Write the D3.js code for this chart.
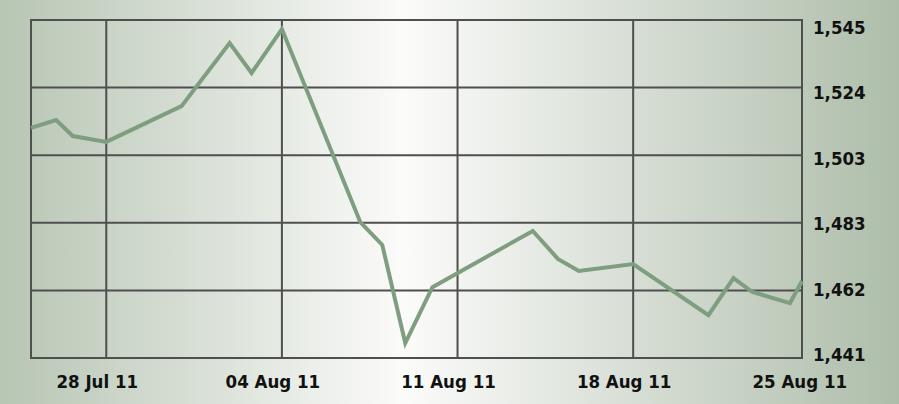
<!DOCTYPE html>
<html>
<head>
<meta charset="utf-8">
<script src="https://cdn.jsdelivr.net/npm/d3@7"></script>
<style>
  body { margin: 0; }
  #chart text { font-family: "DejaVu Sans Condensed", "DejaVu Sans", sans-serif; font-stretch: condensed; font-weight: bold; font-size: 18.5px; fill: #111; }
</style>
</head>
<body>
<div id="chart"></div>
<script>
// price series
var dates = ["2011-07-25T00:00", "2011-07-26T00:00", "2011-07-26T16:00", "2011-07-28T00:00",
  "2011-07-31T00:00", "2011-08-01T22:00", "2011-08-02T19:00", "2011-08-04T00:00",
  "2011-08-07T03:00", "2011-08-08T00:00", "2011-08-08T22:00", "2011-08-10T00:00",
  "2011-08-14T00:00", "2011-08-15T00:00", "2011-08-15T20:00", "2011-08-18T00:00",
  "2011-08-21T00:00", "2011-08-22T00:00", "2011-08-22T18:00", "2011-08-24T06:00",
  "2011-08-24T17:30"];
var prices = [1511.8, 1514.2, 1509.3, 1507.5, 1518.5, 1537.9, 1528.7, 1542.2,
  1482.8, 1475.8, 1445.6, 1462.8, 1480.1, 1471.5, 1467.8, 1469.9,
  1454.2, 1465.6, 1461.3, 1457.9, 1464.7];

var xTickDates = ["2011-07-28", "2011-08-04", "2011-08-11", "2011-08-18", "2011-08-25"];
var yMin = 1441, yMax = 1545, yTickCount = 6;

var W = 899, H = 404;
var margin = {top: 20, right: 97, bottom: 46, left: 31},
width = W - margin.left - margin.right,
height = H - margin.top - margin.bottom;

var parse = d3.timeParse("%Y-%m-%dT%H:%M");
var parseDay = d3.timeParse("%Y-%m-%d");
var data = dates.map(function(d, i) { return {date: parse(d), value: prices[i]}; });

var svg = d3.select("#chart").append("svg")
  .attr("width", W)
  .attr("height", H);

var grad = svg.append("defs").append("linearGradient")
  .attr("id", "bg")
  .attr("x1", "0%").attr("x2", "100%").attr("y1", "0%").attr("y2", "0%");
grad.append("stop").attr("offset", "0%").attr("stop-color", "#b7c5b3");
grad.append("stop").attr("offset", "45%").attr("stop-color", "#fbfbfa");
grad.append("stop").attr("offset", "100%").attr("stop-color", "#aebdaa");

svg.append("rect")
  .attr("width", W)
  .attr("height", H)
  .attr("fill", "url(#bg)");

var g = svg.append("g")
  .attr("transform", "translate(" + margin.left + "," + margin.top + ")");

var x = d3.scaleTime()
  .domain([data[0].date, data[data.length - 1].date])
  .range([0, width]);

var y = d3.scaleLinear()
  .domain([yMin, yMax])
  .range([height, 0]);

// labels on the right sit slightly off the grid lines
var yLabel = d3.scaleLinear()
  .domain([yMin, yMax])
  .range([height - 3, 7.5]);

var yTicks = d3.range(yTickCount).map(function(i) { return yMin + i * (yMax - yMin) / (yTickCount - 1); });
var xTicks = xTickDates.map(parseDay);

// grid
g.append("g")
  .selectAll("line.h")
  .data(yTicks)
  .enter().append("line")
  .attr("x1", 0).attr("x2", width)
  .attr("y1", function(d) { return y(d); })
  .attr("y2", function(d) { return y(d); })
  .attr("stroke", "#4f4f4f")
  .attr("stroke-width", 2);

g.append("g")
  .selectAll("line.v")
  .data(xTicks.filter(function(d) { return x(d) < width; }))
  .enter().append("line")
  .attr("y1", 0).attr("y2", height)
  .attr("x1", function(d) { return x(d); })
  .attr("x2", function(d) { return x(d); })
  .attr("stroke", "#4f4f4f")
  .attr("stroke-width", 2);

g.append("rect")
  .attr("width", width)
  .attr("height", height)
  .attr("fill", "none")
  .attr("stroke", "#4f4f4f")
  .attr("stroke-width", 2);

var line = d3.line()
  .x(function(d) { return x(d.date); })
  .y(function(d) { return y(d.value); });

g.append("path")
  .datum(data)
  .attr("d", line)
  .attr("fill", "none")
  .attr("stroke", "#7f9e7f")
  .attr("stroke-width", 4)
  .attr("stroke-linejoin", "miter");

var fmtY = d3.format(",.0f");
g.selectAll("text.y")
  .data(yTicks)
  .enter().append("text")
  .attr("x", width + 11)
  .attr("y", function(d) { return yLabel(d); })
  .attr("dy", "0.35em")
  .text(function(d) { return fmtY(d); });

var fmtX = d3.timeFormat("%d %b %y");
g.selectAll("text.x")
  .data(xTicks)
  .enter().append("text")
  .attr("text-anchor", "middle")
  .attr("x", function(d) { return x(d) - 9; })
  .attr("y", height + 30)
  .text(function(d) { return fmtX(d); });
</script>
</body>
</html>
